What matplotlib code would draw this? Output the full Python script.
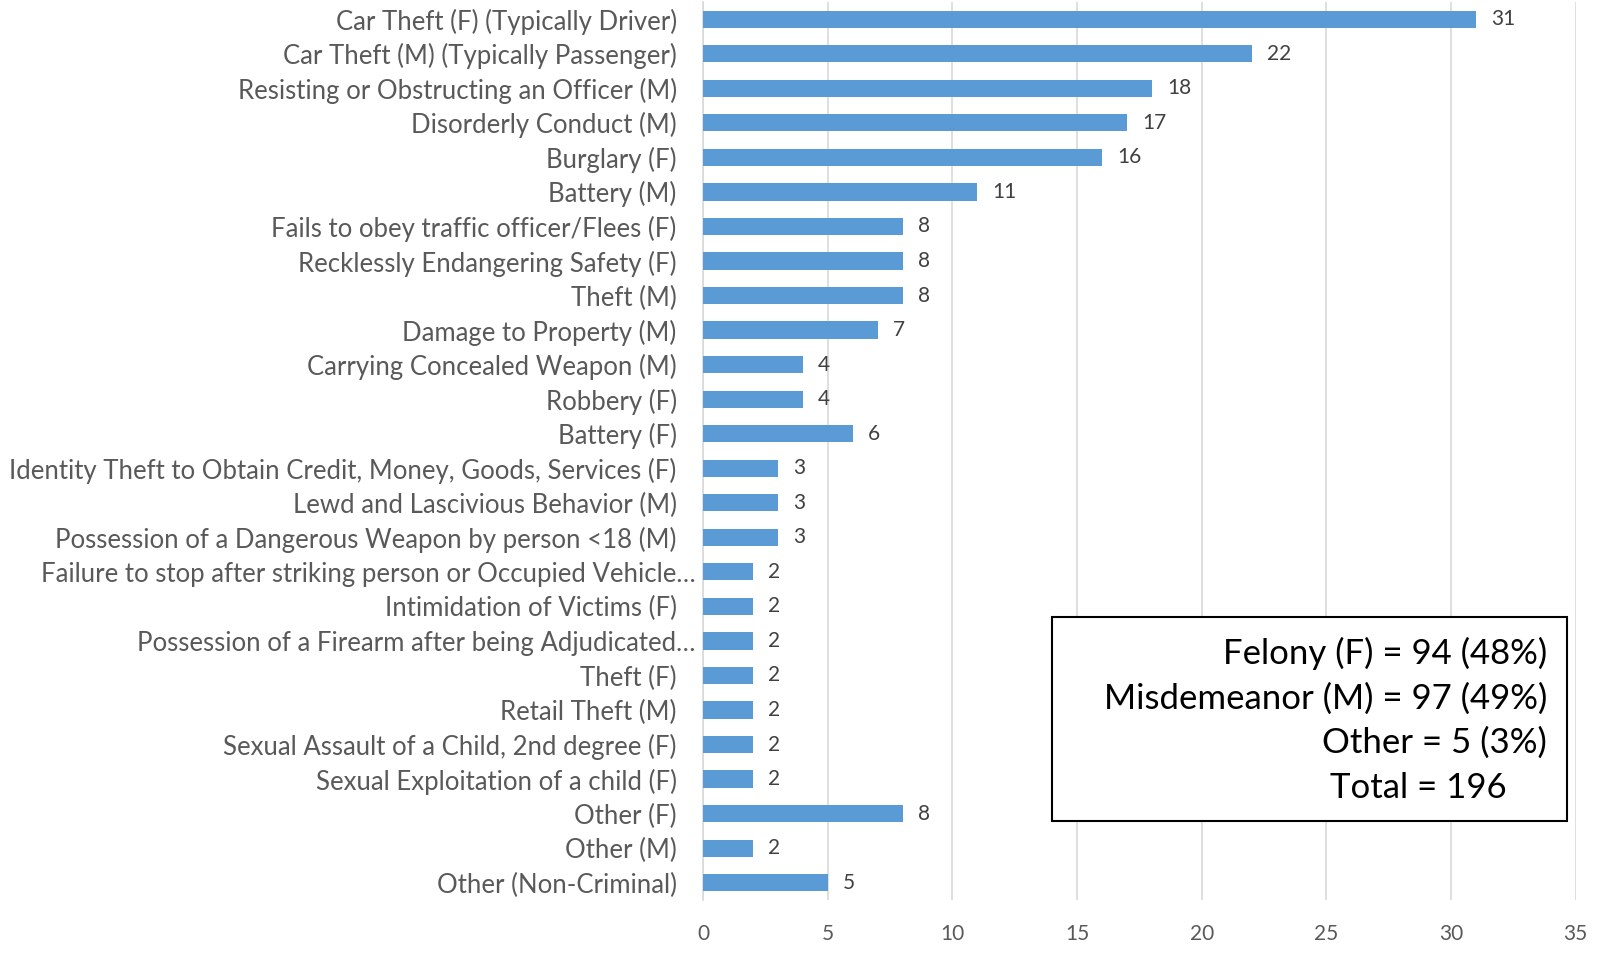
import matplotlib.pyplot as plt
import matplotlib.transforms as mtransforms
from matplotlib import font_manager
import numpy as np

# Offence categories, top to bottom as shown
offences = [
    'Car Theft (F) (Typically Driver)',
    'Car Theft (M) (Typically Passenger)',
    'Resisting or Obstructing an Officer (M)',
    'Disorderly Conduct (M)',
    'Burglary (F)',
    'Battery (M)',
    'Fails to obey traffic officer/Flees (F)',
    'Recklessly Endangering Safety (F)',
    'Theft (M)',
    'Damage to Property (M)',
    'Carrying Concealed Weapon (M)',
    'Robbery (F)',
    'Battery (F)',
    'Identity Theft to Obtain Credit, Money, Goods, Services (F)',
    'Lewd and Lascivious Behavior (M)',
    'Possession of a Dangerous Weapon by person <18 (M)',
    'Failure to stop after striking person or Occupied Vehicle\u2026',
    'Intimidation of Victims (F)',
    'Possession of a Firearm after being Adjudicated\u2026',
    'Theft (F)',
    'Retail Theft (M)',
    'Sexual Assault of a Child, 2nd degree (F)',
    'Sexual Exploitation of a child (F)',
    'Other (F)',
    'Other (M)',
    'Other (Non-Criminal)',
]
counts = [31, 22, 18, 17, 16, 11, 8, 8, 8, 7, 4, 4, 6, 3, 3, 3, 2, 2, 2, 2, 2, 2, 2, 8, 2, 5]
x_ticks = [0, 5, 10, 15, 20, 25, 30, 35]

summary_lines = [
    'Felony (F) = 94 (48%)',
    'Misdemeanor (M) = 97 (49%)',
    'Other = 5 (3%)',
]
total_line = 'Total = 196'

# pick a narrow font if there is one
names = {f.name for f in font_manager.fontManager.ttflist}
family = 'Liberation Sans Narrow' if 'Liberation Sans Narrow' in names else 'Lato'
plt.rcParams['font.family'] = [family, 'DejaVu Sans']

fig = plt.figure(figsize=(15.98, 9.6), dpi=100)
ax = fig.add_axes([0.44, 0.0625, 0.546, 0.9355])

y = np.arange(len(offences))
bars = ax.barh(y, counts, height=0.5, color='#5B9BD5', zorder=3)
vals = ax.bar_label(bars, labels=[str(c) for c in counts], padding=11,
                    fontsize=15, color='#404040')
# Excel sits the numbers a touch lower
for v in vals:
    v.set_transform(v.get_transform() + mtransforms.ScaledTranslation(0, -2 / 100, fig.dpi_scale_trans))

ax.set_yticks(y)
ax.set_yticklabels(offences, fontsize=18.5, color='#595959')
ax.set_ylim(len(offences) - 0.5, -0.5)
ax.set_xlim(0, 35)
ax.set_xticks(x_ticks)
ax.tick_params(axis='x', length=0, labelsize=15, labelcolor='#595959', pad=17)
ax.tick_params(axis='y', length=0, pad=19)

# truncated labels run a bit closer to the axis
for lab in ax.get_yticklabels():
    if lab.get_text().endswith('\u2026'):
        lab.set_transform(lab.get_transform() + mtransforms.ScaledTranslation(19 / 100, 0, fig.dpi_scale_trans))

ax.grid(axis='x', color='#D9D9D9', linewidth=1.2, zorder=0)
for s in ['top', 'right', 'bottom']:
    ax.spines[s].set_visible(False)
ax.spines['left'].set_color('#D9D9D9')
ax.spines['left'].set_linewidth(1.2)

# summary box
box = plt.Rectangle((1052 / 1598, 1 - 821 / 960), 515 / 1598, 204 / 960,
                    transform=fig.transFigure, facecolor='white',
                    edgecolor='black', linewidth=1.5, zorder=5)
fig.patches.append(box)
line_y = [653, 699, 743]
for txt, yy in zip(summary_lines, line_y):
    fig.text(1547 / 1598, 1 - yy / 960, txt, ha='right', va='center',
             fontsize=25, color='black', zorder=6)
fig.text(1507 / 1598, 1 - 788 / 960, total_line, ha='right', va='center',
         fontsize=25, color='black', zorder=6)

fig.savefig('out.png', dpi=100)
